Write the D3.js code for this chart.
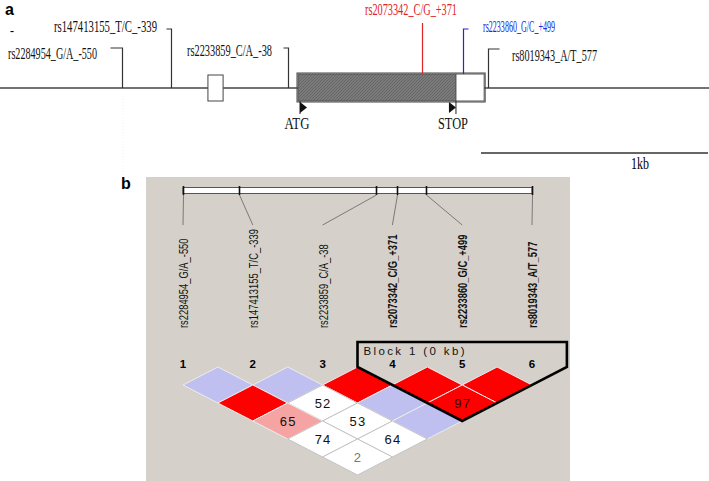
<!DOCTYPE html>
<html>
<head>
<meta charset="utf-8">
<script src="https://cdn.jsdelivr.net/npm/d3@7"></script>
<style>
  body { margin: 0; background: #fff; }
  svg { display: block; }
</style>
</head>
<body>
<div id="chart"></div>
<script>
// snp data
const snpIds = ['rs2284954', 'rs147413155', 'rs2233859', 'rs2073342', 'rs2233860', 'rs8019343'];
const alleles = ['G/A', 'T/C', 'C/A', 'C/G', 'G/C', 'A/T'];
const posLabels = ['-550', '-339', '-38', '+371', '+499', '577'];
const posBp = [-550, -339, -38, 371, 499, 577];
// relative place of each marker on the haploview bar (0 = first, 1 = last)
const barFrac = [0, 0.16, 0.553, 0.613, 0.696, 1];
const inBlock = [false, false, false, true, true, true];

// gene features in bp relative to ATG
const exon1 = [-244, -205];
const cds = [0, 477];
const utr3 = [477, 565];

// LD cells (marker i, marker j, D' x100 shown, colour class)
const pairI = [1, 2, 3, 4, 5, 1, 2, 3, 4, 1, 2, 3, 1, 2, 1];
const pairJ = [2, 3, 4, 5, 6, 3, 4, 5, 6, 4, 5, 6, 5, 6, 6];
const dprime = ['', '', '', '', '', '', '52', '', '97', '65', '53', '', '74', '64', '2'];
const ldClass = ['blue', 'blue', 'red', 'red', 'red', 'red', 'white', 'blue', 'red', 'pink', 'white', 'blue', 'white', 'white', 'white'];

const ldColor = { red: '#ff0000', pink: '#f6a3a3', white: '#ffffff', blue: '#c0c0f0' };

const W = 709, H = 481;
const svg = d3.select('#chart').append('svg')
  .attr('width', W)
  .attr('height', H);

const defs = svg.append('defs');
const hatch = defs.append('pattern')
  .attr('id', 'hatch')
  .attr('patternUnits', 'userSpaceOnUse')
  .attr('width', 3).attr('height', 3);
hatch.append('rect').attr('width', 3).attr('height', 3).attr('fill', '#7b7b7b');
hatch.append('path').attr('d', 'M0,3L3,0').attr('stroke', '#666').attr('stroke-width', 1);

// ---------- panel a ----------
// schematic (not to scale) genomic axis, piecewise
var x = d3.scaleLinear()
  .domain([-1100, -550, -339, -38, 0, 371, 499, 577, 1300])
  .range([0, 122, 171, 288, 298, 422, 463, 488, 709]);

var lineY = 88, boxTop = 74, boxBot = 101;
var serif = '"Liberation Serif", "Times New Roman", serif';

svg.append('text').text('a')
  .attr('x', 5).attr('y', 15)
  .style('font', 'bold 16px "Liberation Sans", Arial, sans-serif');

// faint guide under first snp
svg.append('line')
  .attr('x1', 123).attr('x2', 123).attr('y1', 96).attr('y2', 176)
  .attr('stroke', '#f2f2f2').attr('stroke-dasharray', '1,2');

svg.append('line')
  .attr('x1', x(-1100)).attr('x2', x(1300))
  .attr('y1', lineY).attr('y2', lineY)
  .attr('stroke', '#444').attr('stroke-width', 1.3);

svg.append('rect')
  .attr('x', x(exon1[0])).attr('y', boxTop + 1)
  .attr('width', x(exon1[1]) - x(exon1[0])).attr('height', boxBot - boxTop - 1)
  .attr('fill', '#fff').attr('stroke', '#444');

svg.append('rect')
  .attr('x', x(cds[0])).attr('y', boxTop)
  .attr('width', x(cds[1]) - x(cds[0])).attr('height', boxBot - boxTop)
  .attr('fill', 'url(#hatch)').attr('stroke', '#555');
svg.append('rect')
  .attr('x', x(utr3[0])).attr('y', boxTop)
  .attr('width', x(utr3[1]) - x(utr3[0])).attr('height', boxBot - boxTop)
  .attr('fill', '#fff').attr('stroke', '#555');
svg.append('rect')
  .attr('x', x(cds[0]) - 1).attr('y', boxTop - 1)
  .attr('width', x(utr3[1]) - x(cds[0]) + 2).attr('height', boxBot - boxTop + 2)
  .attr('fill', 'none').attr('stroke', '#444').attr('stroke-width', 1);

// ATG / STOP markers
[[cds[0], 'ATG', 1], [cds[1], 'STOP', -1]].forEach(function (mk) {
  var mx = x(mk[0]) + (mk[2] > 0 ? 2 : -1);
  var tx = mk[2] > 0 ? mx : mx - 6;
  svg.append('line')
    .attr('x1', mk[2] > 0 ? mx : mx + 1).attr('x2', mk[2] > 0 ? mx : mx + 1)
    .attr('y1', boxBot).attr('y2', boxBot + 13)
    .attr('stroke', '#222');
  svg.append('path')
    .attr('d', 'M' + tx + ',' + (boxBot + 1) + 'L' + (tx + 7) + ',' + (boxBot + 6.5) + 'L' + tx + ',' + (boxBot + 12) + 'Z')
    .attr('fill', '#111');
  svg.append('text').text(mk[1])
    .attr('x', mk[2] > 0 ? x(mk[0]) - 1 : x(mk[0]) - 3).attr('y', 129)
    .attr('text-anchor', 'middle')
    .attr('textLength', mk[1].length === 3 ? 25 : 30)
    .attr('lengthAdjust', 'spacingAndGlyphs')
    .style('font', '17px ' + serif).attr('fill', '#111');
});

// snp pins and labels
var pinTop = [48, 29, 48, 23, 29, 49];
var pinTick = [-12, -5, -5, 0, 5, 11];
var labX = [8, 54, 187, 365, 483, 512];
var labY = [59, 32, 56, 15, 32, 61];
var labW = [89, 103, 85, 92, 72, 85];
var pinColor = ['#333', '#333', '#333', '#e02424', '#2424d8', '#333'];
var labColor = ['#111', '#111', '#111', '#e02424', '#2424d8', '#111'];

snpIds.forEach(function (id, i) {
  var px = Math.round(x(posBp[i])) + 0.5;
  var bottom = (i === 3 || i === 4) ? boxTop : lineY;
  svg.append('path')
    .attr('d', 'M' + (px + pinTick[i]) + ',' + pinTop[i] + 'H' + px + 'V' + bottom)
    .attr('fill', 'none').attr('stroke', pinColor[i]).attr('stroke-width', 1.2);
  svg.append('text')
    .text(id + '_' + alleles[i] + '_' + posLabels[i])
    .attr('x', labX[i]).attr('y', labY[i])
    .attr('textLength', labW[i])
    .attr('lengthAdjust', 'spacingAndGlyphs')
    .attr('fill', labColor[i])
    .style('font', '17px ' + serif);
});

svg.append('text').text('-')
  .attr('x', 10).attr('y', 35)
  .style('font', 'bold 12px ' + serif);

// scale bar
svg.append('line')
  .attr('x1', 481).attr('x2', 708).attr('y1', 153).attr('y2', 153)
  .attr('stroke', '#666').attr('stroke-width', 2);
svg.append('text').text('1kb')
  .attr('x', 640).attr('y', 169).attr('text-anchor', 'middle')
  .attr('textLength', 18).attr('lengthAdjust', 'spacingAndGlyphs')
  .style('font', '16px ' + serif);

// ---------- panel b ----------
svg.append('text').text('b')
  .attr('x', 121).attr('y', 189)
  .style('font', 'bold 16px "Liberation Sans", Arial, sans-serif');

svg.append('rect')
  .attr('x', 146).attr('y', 177)
  .attr('width', 570 - 146).attr('height', H - 177)
  .attr('fill', '#d5d1ca');

var sans = '"Liberation Sans", Arial, sans-serif';
var m = d3.scalePoint().domain(d3.range(1, 7)).range([183, 532]);
var bar = d3.scaleLinear().domain([0, 1]).range([183, 532]);
var step = m.step();

// marker bar
svg.append('rect')
  .attr('x', bar(0)).attr('y', 187.5)
  .attr('width', bar(1) - bar(0)).attr('height', 6)
  .attr('fill', '#fff').attr('stroke', '#555').attr('stroke-width', 1);

barFrac.forEach(function (f, i) {
  var bx = Math.round(bar(f)) + 0.5;
  svg.append('line')
    .attr('x1', bx).attr('x2', bx).attr('y1', 186).attr('y2', 195)
    .attr('stroke', '#111').attr('stroke-width', 1.6);
  svg.append('line')
    .attr('x1', bx).attr('y1', 195)
    .attr('x2', m(i + 1)).attr('y2', 225)
    .attr('stroke', '#7a7a7a').attr('stroke-width', 1);
});

// rotated marker names
snpIds.forEach(function (id, i) {
  svg.append('text')
    .text(id + '_' + alleles[i] + '_' + posLabels[i])
    .attr('transform', 'translate(' + (m(i + 1) + 5) + ',328) rotate(-90) scale(0.75,1)')
    .attr('fill', '#111')
    .style('font', (inBlock[i] ? 'bold ' : '') + '12.5px ' + sans);
});

// marker numbers
d3.range(1, 7).forEach(function (k) {
  svg.append('text').text(k)
    .attr('x', m(k)).attr('y', 367.5)
    .attr('text-anchor', 'middle')
    .style('font', 'bold 11.5px ' + sans);
});

// LD diamonds
var row0 = 385, halfH = 18, halfW = step / 2;
var cells = pairI.map(function (a, k) {
  return { i: a, j: pairJ[k], d: dprime[k], c: ldClass[k] };
});

var cellG = svg.append('g');
cells.forEach(function (c) {
  var cx = (m(c.i) + m(c.j)) / 2;
  var cy = row0 + (c.j - c.i - 1) * halfH;
  cellG.append('path')
    .attr('d', 'M' + cx + ',' + (cy - halfH) + 'L' + (cx + halfW) + ',' + cy + 'L' + cx + ',' + (cy + halfH) + 'L' + (cx - halfW) + ',' + cy + 'Z')
    .attr('fill', ldColor[c.c])
    .attr('stroke', c.c === 'white' ? '#c4c4c4' : '#ececec')
    .attr('stroke-width', 1);
});

// block outline
var b0 = 4, b1 = 6;
var bTop = 342;
var blockPts = [
  [m(b0) - halfW, bTop],
  [m(b1) + halfW, bTop],
  [m(b1) + halfW, row0 - halfH],
  [(m(b0) + m(b1)) / 2, row0 + (b1 - b0 - 1) * halfH + halfH],
  [m(b0) - halfW, row0 - halfH]
];
svg.append('path')
  .attr('d', d3.line()(blockPts) + 'Z')
  .attr('fill', 'none').attr('stroke', '#000').attr('stroke-width', 2.6)
  .attr('stroke-linejoin', 'miter');

svg.append('text').text('Block 1  (0 kb)')
  .attr('x', m(b0) - halfW + 6).attr('y', 354.5)
  .attr('textLength', 101).attr('lengthAdjust', 'spacing')
  .style('font', '11.5px ' + sans).attr('fill', '#111');

// D' numbers
cells.forEach(function (c) {
  if (c.d === '') return;
  var cx = (m(c.i) + m(c.j)) / 2;
  var cy = row0 + (c.j - c.i - 1) * halfH;
  svg.append('text').text(c.d)
    .attr('x', cx + 0.5).attr('y', cy + 5)
    .attr('text-anchor', 'middle')
    .style('font', '13px ' + sans)
    .style('letter-spacing', '1.2px')
    .attr('fill', c.d === '2' ? '#777' : (c.c === 'red' ? '#300' : '#111'));
});
</script>
</body>
</html>
